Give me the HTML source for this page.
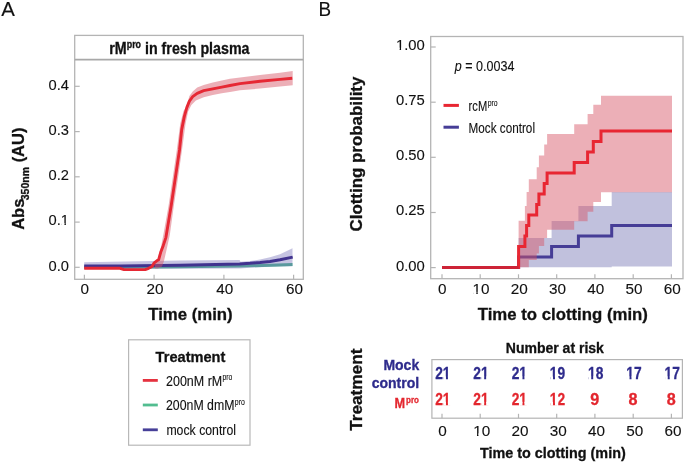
<!DOCTYPE html>
<html><head><meta charset="utf-8"><style>
html,body{margin:0;padding:0;background:#fff;}
body{width:685px;height:463px;overflow:hidden;}
svg{display:block;will-change:transform;font-family:"Liberation Sans",sans-serif;}
</style></head><body>
<svg width="685" height="463" viewBox="0 0 685 463" fill="#111">
<text stroke="#111" stroke-width="0.12" x="1.2" y="15.8" font-size="20" textLength="13.6" lengthAdjust="spacingAndGlyphs">A</text>
<text stroke="#111" stroke-width="0.12" x="318.6" y="15.8" font-size="20" textLength="12.6" lengthAdjust="spacingAndGlyphs">B</text>
<rect x="74.7" y="35.4" width="228.60000000000002" height="243.9" fill="none" stroke="#b4b4b4" stroke-width="1.3"/>
<line x1="74.7" y1="59.7" x2="303.3" y2="59.7" stroke="#a8a8a8" stroke-width="1.7"/>
<text stroke="#111" stroke-width="0.3" x="109.3" y="53.8" font-size="16" font-weight="bold" textLength="140.2" lengthAdjust="spacingAndGlyphs">rM<tspan font-size="10" dy="-5.6">pro</tspan><tspan dy="5.6"> in fresh plasma</tspan></text>
<line x1="74.7" y1="267.3" x2="79.7" y2="267.3" stroke="#b4b4b4" stroke-width="1.2"/>
<text stroke="#111" stroke-width="0.12" x="69" y="270.5" font-size="14.7" text-anchor="end">0.0</text>
<line x1="74.7" y1="222.1" x2="79.7" y2="222.1" stroke="#b4b4b4" stroke-width="1.2"/>
<text stroke="#111" stroke-width="0.12" x="69" y="225.2" font-size="14.7" text-anchor="end">0.1</text>
<line x1="74.7" y1="176.8" x2="79.7" y2="176.8" stroke="#b4b4b4" stroke-width="1.2"/>
<text stroke="#111" stroke-width="0.12" x="69" y="180.0" font-size="14.7" text-anchor="end">0.2</text>
<line x1="74.7" y1="131.6" x2="79.7" y2="131.6" stroke="#b4b4b4" stroke-width="1.2"/>
<text stroke="#111" stroke-width="0.12" x="69" y="134.8" font-size="14.7" text-anchor="end">0.3</text>
<line x1="74.7" y1="86.3" x2="79.7" y2="86.3" stroke="#b4b4b4" stroke-width="1.2"/>
<text stroke="#111" stroke-width="0.12" x="69" y="89.5" font-size="14.7" text-anchor="end">0.4</text>
<line x1="84.4" y1="279.3" x2="84.4" y2="274.8" stroke="#b4b4b4" stroke-width="1.2"/>
<text stroke="#111" stroke-width="0.12" x="84.7" y="294.0" font-size="15.3" text-anchor="middle">0</text>
<line x1="154.1" y1="279.3" x2="154.1" y2="274.8" stroke="#b4b4b4" stroke-width="1.2"/>
<text stroke="#111" stroke-width="0.12" x="154.9" y="294.0" font-size="15.3" text-anchor="middle">20</text>
<line x1="223.9" y1="279.3" x2="223.9" y2="274.8" stroke="#b4b4b4" stroke-width="1.2"/>
<text stroke="#111" stroke-width="0.12" x="224.7" y="294.0" font-size="15.3" text-anchor="middle">40</text>
<line x1="293.6" y1="279.3" x2="293.6" y2="274.8" stroke="#b4b4b4" stroke-width="1.2"/>
<text stroke="#111" stroke-width="0.12" x="294.4" y="294.0" font-size="15.3" text-anchor="middle">60</text>
<text stroke="#111" stroke-width="0.3" x="148.2" y="320.3" font-size="17" font-weight="bold" textLength="84.5" lengthAdjust="spacingAndGlyphs">Time (min)</text>
<text stroke="#111" stroke-width="0.3" transform="translate(23.6,229.8) rotate(-90)" font-size="16.5" font-weight="bold">Abs<tspan font-size="10.5" dx="-1.6" dy="5.4">350nm</tspan><tspan dy="-5.4"> (AU)</tspan></text>
<polyline points="84.2,267.2 120.0,267.2 180.0,266.8 240.0,266.0 270.0,265.2 292.5,264.6" fill="none" stroke="#45b58a" stroke-width="3" stroke-linejoin="round"/>
<polygon points="84.2,262.2 180.0,260.5 239.6,259.9 240.5,261.8 250.0,261.0 260.0,259.6 270.0,257.3 280.0,254.3 292.5,248.3 292.5,266.3 280.0,266.5 270.0,266.8 250.0,267.8 240.0,268.5 180.0,268.8 84.2,269.0" fill="#7672ba" fill-opacity="0.42"/>
<polyline points="84.2,266.0 120.0,265.9 180.0,265.3 239.6,263.9 250.0,263.3 260.0,262.5 270.0,261.4 280.0,259.8 292.7,257.1" fill="none" stroke="#41338f" stroke-width="3" stroke-linejoin="round" stroke-linecap="butt"/>
<polygon points="155.0,262.5 158.0,258.5 161.0,247.0 163.3,235.0 168.5,206.0 172.7,178.0 176.8,150.0 180.2,124.0 183.5,111.0 186.6,106.3 189.4,95.9 192.7,91.4 197.2,87.5 203.7,84.9 212.8,82.6 221.8,80.6 230.0,78.8 240.0,77.5 260.0,75.0 280.0,72.8 292.7,71.1 292.7,85.2 280.0,86.6 260.0,88.6 240.0,90.3 230.0,92.0 221.8,93.3 212.8,94.9 203.7,97.2 195.9,100.5 191.4,105.0 188.1,111.5 185.5,124.0 182.0,150.0 178.0,178.0 173.8,206.0 169.8,235.0 166.5,250.0 164.0,261.0 162.0,266.5 158.0,268.6 155.0,268.6" fill="rgb(215,85,102)" fill-opacity="0.47"/>
<polyline points="84.2,268.2 120.0,268.3 124.0,269.6 145.2,269.6 148.6,268.3 152.1,266.5 154.2,262.8 156.8,260.8 158.6,259.8 160.7,252.3 163.3,245.4 165.9,237.6 171.1,206.2 175.3,178.1 179.5,150.0 181.7,129.6 184.3,116.6 186.8,107.6 189.4,101.1 192.7,96.6 197.2,93.3 203.7,90.7 212.8,88.8 221.8,87.1 230.0,85.5 240.0,83.6 260.0,81.2 280.0,79.4 292.3,78.3" fill="none" stroke="#e62834" stroke-width="2.9" stroke-linejoin="round" stroke-linecap="butt"/>
<rect x="128.6" y="339.8" width="121.4" height="105.4" fill="none" stroke="#b8b8b8" stroke-width="1.2"/>
<text stroke="#111" stroke-width="0.3" x="155.6" y="362.1" font-size="14.5" font-weight="bold" textLength="69.8" lengthAdjust="spacingAndGlyphs">Treatment</text>
<line x1="142.8" y1="380.4" x2="157.8" y2="380.4" stroke="#e5323f" stroke-width="2.8"/>
<line x1="142.8" y1="405.0" x2="157.8" y2="405.0" stroke="#52bd90" stroke-width="2.8"/>
<line x1="142.8" y1="429.8" x2="157.8" y2="429.8" stroke="#463f98" stroke-width="2.8"/>
<text stroke="#111" stroke-width="0.12" x="166" y="385.6" font-size="14.2" textLength="56.2" lengthAdjust="spacingAndGlyphs">200nM rM</text>
<text stroke="#111" stroke-width="0.12" x="222.4" y="380.0" font-size="9" textLength="9.8" lengthAdjust="spacingAndGlyphs">pro</text>
<text stroke="#111" stroke-width="0.12" x="166" y="410.0" font-size="14.4" textLength="68.4" lengthAdjust="spacingAndGlyphs">200nM dmM</text>
<text stroke="#111" stroke-width="0.12" x="234.8" y="404.9" font-size="9" textLength="10" lengthAdjust="spacingAndGlyphs">pro</text>
<text stroke="#111" stroke-width="0.12" x="166.4" y="434.7" font-size="14.2" textLength="69.6" lengthAdjust="spacingAndGlyphs">mock control</text>
<rect x="430.7" y="36.5" width="252.3" height="242.2" fill="none" stroke="#b4b4b4" stroke-width="1.3"/>
<line x1="430.7" y1="267.6" x2="435.7" y2="267.6" stroke="#b4b4b4" stroke-width="1.2"/>
<text stroke="#111" stroke-width="0.12" x="424.8" y="270.5" font-size="14.8" text-anchor="end">0.00</text>
<line x1="430.7" y1="212.5" x2="435.7" y2="212.5" stroke="#b4b4b4" stroke-width="1.2"/>
<text stroke="#111" stroke-width="0.12" x="424.8" y="215.4" font-size="14.8" text-anchor="end">0.25</text>
<line x1="430.7" y1="157.3" x2="435.7" y2="157.3" stroke="#b4b4b4" stroke-width="1.2"/>
<text stroke="#111" stroke-width="0.12" x="424.8" y="160.2" font-size="14.8" text-anchor="end">0.50</text>
<line x1="430.7" y1="102.2" x2="435.7" y2="102.2" stroke="#b4b4b4" stroke-width="1.2"/>
<text stroke="#111" stroke-width="0.12" x="424.8" y="105.1" font-size="14.8" text-anchor="end">0.75</text>
<line x1="430.7" y1="47.0" x2="435.7" y2="47.0" stroke="#b4b4b4" stroke-width="1.2"/>
<text stroke="#111" stroke-width="0.12" x="424.8" y="49.9" font-size="14.8" text-anchor="end">1.00</text>
<line x1="442.0" y1="278.7" x2="442.0" y2="274.3" stroke="#b4b4b4" stroke-width="1.2"/>
<text stroke="#111" stroke-width="0.12" x="442.3" y="294.0" font-size="15.3" text-anchor="middle">0</text>
<line x1="480.2" y1="278.7" x2="480.2" y2="274.3" stroke="#b4b4b4" stroke-width="1.2"/>
<text stroke="#111" stroke-width="0.12" x="481.0" y="294.0" font-size="15.3" text-anchor="middle">10</text>
<line x1="518.5" y1="278.7" x2="518.5" y2="274.3" stroke="#b4b4b4" stroke-width="1.2"/>
<text stroke="#111" stroke-width="0.12" x="519.3" y="294.0" font-size="15.3" text-anchor="middle">20</text>
<line x1="556.7" y1="278.7" x2="556.7" y2="274.3" stroke="#b4b4b4" stroke-width="1.2"/>
<text stroke="#111" stroke-width="0.12" x="557.5" y="294.0" font-size="15.3" text-anchor="middle">30</text>
<line x1="594.9" y1="278.7" x2="594.9" y2="274.3" stroke="#b4b4b4" stroke-width="1.2"/>
<text stroke="#111" stroke-width="0.12" x="595.7" y="294.0" font-size="15.3" text-anchor="middle">40</text>
<line x1="633.2" y1="278.7" x2="633.2" y2="274.3" stroke="#b4b4b4" stroke-width="1.2"/>
<text stroke="#111" stroke-width="0.12" x="634.0" y="294.0" font-size="15.3" text-anchor="middle">50</text>
<line x1="671.4" y1="278.7" x2="671.4" y2="274.3" stroke="#b4b4b4" stroke-width="1.2"/>
<text stroke="#111" stroke-width="0.12" x="672.2" y="294.0" font-size="15.3" text-anchor="middle">60</text>
<text stroke="#111" stroke-width="0.3" x="477.7" y="320.4" font-size="17" font-weight="bold" textLength="170.2" lengthAdjust="spacingAndGlyphs">Time to clotting (min)</text>
<text stroke="#111" stroke-width="0.3" transform="translate(362.2,231.5) rotate(-90)" font-size="17" font-weight="bold" textLength="154.9" lengthAdjust="spacingAndGlyphs">Clotting probability</text>
<polygon points="518.6,237.9 551.6,237.9 551.6,221.0 578.4,221.0 578.4,205.9 611.7,205.9 611.7,192.0 672.0,192.0 672.0,266.4 611.7,266.4 611.7,267.3 578.4,267.3 578.4,267.3 551.6,267.3 551.6,267.3 518.6,267.3" fill="rgb(123,123,183)" fill-opacity="0.47"/>
<polyline points="442.0,267.6 518.6,267.6 518.6,257.1 551.6,257.1 551.6,246.6 578.4,246.6 578.4,236.1 611.7,236.1 611.7,225.6 672.0,225.6" fill="none" stroke="#463d96" stroke-width="3"/>
<polygon points="518.6,220.8 524.9,220.8 524.9,206.0 526.6,206.0 526.6,192.0 528.8,192.0 528.8,179.3 536.7,179.3 536.7,167.2 538.9,167.2 538.9,155.6 544.2,155.6 544.2,144.4 547.1,144.4 547.1,134.0 574.2,134.0 574.2,124.2 587.6,124.2 587.6,114.0 593.3,114.0 593.3,104.7 601.0,104.7 601.0,95.7 672.0,95.7 672.0,192.3 601.0,192.3 601.0,202.0 593.3,202.0 593.3,211.7 587.6,211.7 587.6,221.2 574.2,221.2 574.2,229.7 547.1,229.7 547.1,238.0 544.2,238.0 544.2,246.0 538.9,246.0 538.9,253.6 536.7,253.6 536.7,260.1 528.8,260.1 528.8,267.3 526.6,267.3 526.6,267.3 524.9,267.3 524.9,267.3 518.6,267.3" fill="rgb(215,85,102)" fill-opacity="0.47"/>
<polyline points="518.4,267.6 518.6,267.6 518.6,246.6 524.9,246.6 524.9,236.1 526.6,236.1 526.6,225.6 528.8,225.6 528.8,215.1 536.7,215.1 536.7,204.6 538.9,204.6 538.9,194.1 544.2,194.1 544.2,183.6 547.1,183.6 547.1,173.1 574.2,173.1 574.2,162.6 587.6,162.6 587.6,152.1 593.3,152.1 593.3,141.6 601.0,141.6 601.0,131.1 672.0,131.1" fill="none" stroke="#e82632" stroke-width="3"/>
<line x1="442.0" y1="267.6" x2="518.4" y2="267.6" stroke="#cd2337" stroke-width="3"/>
<text stroke="#111" stroke-width="0.12" x="454.8" y="70.5" font-size="13.9" textLength="59.6" lengthAdjust="spacingAndGlyphs"><tspan font-style="italic">p</tspan> = 0.0034</text>
<line x1="443.5" y1="105.4" x2="458.9" y2="105.4" stroke="#e82632" stroke-width="3"/>
<line x1="443.5" y1="127.2" x2="458.9" y2="127.2" stroke="#463d96" stroke-width="3"/>
<text stroke="#111" stroke-width="0.12" x="468.6" y="110.8" font-size="14.7" textLength="18.6" lengthAdjust="spacingAndGlyphs">rcM</text>
<text stroke="#111" stroke-width="0.12" x="487.7" y="106.0" font-size="8.8" textLength="9.9" lengthAdjust="spacingAndGlyphs">pro</text>
<text stroke="#111" stroke-width="0.12" x="468.6" y="132.5" font-size="14.5" textLength="66.4" lengthAdjust="spacingAndGlyphs">Mock control</text>
<rect x="431.9" y="359.6" width="250.5" height="58.6" fill="none" stroke="#b4b4b4" stroke-width="1.2"/>
<text stroke="#111" stroke-width="0.3" x="505.8" y="353.1" font-size="14" font-weight="bold" textLength="98.1" lengthAdjust="spacingAndGlyphs">Number at risk</text>
<text stroke="#2e2b8c" stroke-width="0.3" x="442.8" y="379.3" font-size="16.2" font-weight="bold" fill="#2e2b8c" text-anchor="middle" textLength="15.3" lengthAdjust="spacingAndGlyphs">21</text>
<text stroke="#e3262e" stroke-width="0.3" x="442.8" y="404.6" font-size="16.2" font-weight="bold" fill="#e3262e" text-anchor="middle" textLength="15.3" lengthAdjust="spacingAndGlyphs">21</text>
<line x1="442.0" y1="418.2" x2="442.0" y2="413.8" stroke="#b4b4b4" stroke-width="1.2"/>
<text stroke="#111" stroke-width="0.12" x="442.6" y="435.6" font-size="15.3" text-anchor="middle">0</text>
<text stroke="#2e2b8c" stroke-width="0.3" x="481.0" y="379.3" font-size="16.2" font-weight="bold" fill="#2e2b8c" text-anchor="middle" textLength="15.3" lengthAdjust="spacingAndGlyphs">21</text>
<text stroke="#e3262e" stroke-width="0.3" x="481.0" y="404.6" font-size="16.2" font-weight="bold" fill="#e3262e" text-anchor="middle" textLength="15.3" lengthAdjust="spacingAndGlyphs">21</text>
<line x1="480.2" y1="418.2" x2="480.2" y2="413.8" stroke="#b4b4b4" stroke-width="1.2"/>
<text stroke="#111" stroke-width="0.12" x="481.7" y="435.6" font-size="15.3" text-anchor="middle">10</text>
<text stroke="#2e2b8c" stroke-width="0.3" x="519.3" y="379.3" font-size="16.2" font-weight="bold" fill="#2e2b8c" text-anchor="middle" textLength="15.3" lengthAdjust="spacingAndGlyphs">21</text>
<text stroke="#e3262e" stroke-width="0.3" x="519.3" y="404.6" font-size="16.2" font-weight="bold" fill="#e3262e" text-anchor="middle" textLength="15.3" lengthAdjust="spacingAndGlyphs">21</text>
<line x1="518.5" y1="418.2" x2="518.5" y2="413.8" stroke="#b4b4b4" stroke-width="1.2"/>
<text stroke="#111" stroke-width="0.12" x="520.0" y="435.6" font-size="15.3" text-anchor="middle">20</text>
<text stroke="#2e2b8c" stroke-width="0.3" x="557.5" y="379.3" font-size="16.2" font-weight="bold" fill="#2e2b8c" text-anchor="middle" textLength="15.3" lengthAdjust="spacingAndGlyphs">19</text>
<text stroke="#e3262e" stroke-width="0.3" x="557.5" y="404.6" font-size="16.2" font-weight="bold" fill="#e3262e" text-anchor="middle" textLength="15.3" lengthAdjust="spacingAndGlyphs">12</text>
<line x1="556.7" y1="418.2" x2="556.7" y2="413.8" stroke="#b4b4b4" stroke-width="1.2"/>
<text stroke="#111" stroke-width="0.12" x="558.2" y="435.6" font-size="15.3" text-anchor="middle">30</text>
<text stroke="#2e2b8c" stroke-width="0.3" x="595.7" y="379.3" font-size="16.2" font-weight="bold" fill="#2e2b8c" text-anchor="middle" textLength="15.3" lengthAdjust="spacingAndGlyphs">18</text>
<text stroke="#e3262e" stroke-width="0.3" x="594.7" y="404.6" font-size="16.2" font-weight="bold" fill="#e3262e" text-anchor="middle" textLength="9.0" lengthAdjust="spacingAndGlyphs">9</text>
<line x1="594.9" y1="418.2" x2="594.9" y2="413.8" stroke="#b4b4b4" stroke-width="1.2"/>
<text stroke="#111" stroke-width="0.12" x="596.4" y="435.6" font-size="15.3" text-anchor="middle">40</text>
<text stroke="#2e2b8c" stroke-width="0.3" x="634.0" y="379.3" font-size="16.2" font-weight="bold" fill="#2e2b8c" text-anchor="middle" textLength="15.3" lengthAdjust="spacingAndGlyphs">17</text>
<text stroke="#e3262e" stroke-width="0.3" x="633.0" y="404.6" font-size="16.2" font-weight="bold" fill="#e3262e" text-anchor="middle" textLength="9.0" lengthAdjust="spacingAndGlyphs">8</text>
<line x1="633.2" y1="418.2" x2="633.2" y2="413.8" stroke="#b4b4b4" stroke-width="1.2"/>
<text stroke="#111" stroke-width="0.12" x="634.7" y="435.6" font-size="15.3" text-anchor="middle">50</text>
<text stroke="#2e2b8c" stroke-width="0.3" x="672.2" y="379.3" font-size="16.2" font-weight="bold" fill="#2e2b8c" text-anchor="middle" textLength="15.3" lengthAdjust="spacingAndGlyphs">17</text>
<text stroke="#e3262e" stroke-width="0.3" x="671.2" y="404.6" font-size="16.2" font-weight="bold" fill="#e3262e" text-anchor="middle" textLength="9.0" lengthAdjust="spacingAndGlyphs">8</text>
<line x1="671.4" y1="418.2" x2="671.4" y2="413.8" stroke="#b4b4b4" stroke-width="1.2"/>
<text stroke="#111" stroke-width="0.12" x="672.9" y="435.6" font-size="15.3" text-anchor="middle">60</text>
<text stroke="#111" stroke-width="0.3" x="479.9" y="458.0" font-size="14.6" font-weight="bold" textLength="145.8" lengthAdjust="spacingAndGlyphs">Time to clotting (min)</text>
<text stroke="#2e2b8c" stroke-width="0.3" x="419.2" y="370.4" font-size="14" font-weight="bold" fill="#2e2b8c" text-anchor="end">Mock</text>
<text stroke="#2e2b8c" stroke-width="0.3" x="419.2" y="388.4" font-size="14" font-weight="bold" fill="#2e2b8c" text-anchor="end">control</text>
<text stroke="#e3262e" stroke-width="0.3" x="394.4" y="407.8" font-size="15.2" font-weight="bold" fill="#e3262e" textLength="10.6" lengthAdjust="spacingAndGlyphs">M</text>
<text stroke="#e3262e" stroke-width="0.3" x="406" y="402.8" font-size="9.5" font-weight="bold" fill="#e3262e" textLength="12.9" lengthAdjust="spacingAndGlyphs">pro</text>
<text stroke="#111" stroke-width="0.3" transform="translate(362.3,430.8) rotate(-90)" font-size="17" font-weight="bold" textLength="82.2" lengthAdjust="spacingAndGlyphs">Treatment</text>
<rect x="61.58" y="223.04" width="2.88" height="3.26" fill="#fff"/>
<rect x="65.87" y="223.04" width="3.52" height="3.26" fill="#fff"/>
<rect x="396.77" y="47.73" width="2.90" height="3.27" fill="#fff"/>
<rect x="401.07" y="47.73" width="3.53" height="3.27" fill="#fff"/>
<rect x="473.31" y="291.80" width="2.98" height="3.30" fill="#fff"/>
<rect x="477.75" y="291.80" width="3.61" height="3.30" fill="#fff"/>
<rect x="443.31" y="376.50" width="2.65" height="3.90" fill="#fff"/>
<rect x="447.95" y="376.50" width="3.22" height="3.90" fill="#fff"/>
<rect x="443.31" y="401.80" width="2.65" height="3.90" fill="#fff"/>
<rect x="447.95" y="401.80" width="3.22" height="3.90" fill="#fff"/>
<rect x="481.51" y="376.50" width="2.65" height="3.90" fill="#fff"/>
<rect x="486.15" y="376.50" width="3.22" height="3.90" fill="#fff"/>
<rect x="481.51" y="401.80" width="2.65" height="3.90" fill="#fff"/>
<rect x="486.15" y="401.80" width="3.22" height="3.90" fill="#fff"/>
<rect x="474.01" y="433.40" width="2.98" height="3.30" fill="#fff"/>
<rect x="478.45" y="433.40" width="3.61" height="3.30" fill="#fff"/>
<rect x="519.81" y="376.50" width="2.65" height="3.90" fill="#fff"/>
<rect x="524.45" y="376.50" width="3.22" height="3.90" fill="#fff"/>
<rect x="519.81" y="401.80" width="2.65" height="3.90" fill="#fff"/>
<rect x="524.45" y="401.80" width="3.22" height="3.90" fill="#fff"/>
<rect x="550.37" y="376.50" width="2.65" height="3.90" fill="#fff"/>
<rect x="555.00" y="376.50" width="3.22" height="3.90" fill="#fff"/>
<rect x="550.37" y="401.80" width="2.65" height="3.90" fill="#fff"/>
<rect x="555.00" y="401.80" width="3.22" height="3.90" fill="#fff"/>
<rect x="588.57" y="376.50" width="2.65" height="3.90" fill="#fff"/>
<rect x="593.20" y="376.50" width="3.22" height="3.90" fill="#fff"/>
<rect x="626.87" y="376.50" width="2.65" height="3.90" fill="#fff"/>
<rect x="631.50" y="376.50" width="3.22" height="3.90" fill="#fff"/>
<rect x="665.07" y="376.50" width="2.65" height="3.90" fill="#fff"/>
<rect x="669.70" y="376.50" width="3.22" height="3.90" fill="#fff"/>
</svg>
</body></html>
